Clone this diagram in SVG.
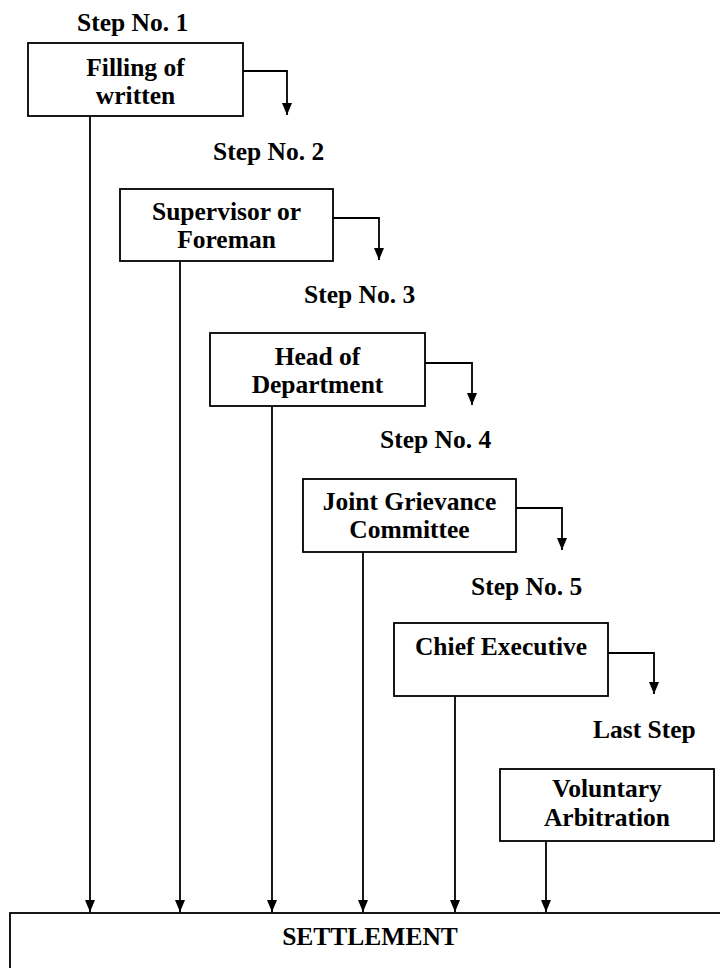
<svg xmlns="http://www.w3.org/2000/svg" width="720" height="968" viewBox="0 0 720 968">
<defs>
<style>
.box{fill:#fff;stroke:#000;stroke-width:1.8}
.c{fill:none;stroke:#000;stroke-width:1.8}
</style>
<marker id="ah" markerWidth="12" markerHeight="10" refX="12" refY="5" orient="auto" markerUnits="userSpaceOnUse" viewBox="0 0 12 10">
<path d="M0,0 L12,5 L0,10 Z" fill="#000"/>
</marker>
</defs>
<rect width="720" height="968" fill="#fff"/>
<g id="labels">
<text x="77" y="31" font-family="Liberation Serif" font-weight="bold" font-size="25.5">Step No. 1</text>
<text x="213" y="160" font-family="Liberation Serif" font-weight="bold" font-size="25.5">Step No. 2</text>
<text x="304" y="303" font-family="Liberation Serif" font-weight="bold" font-size="25.5">Step No. 3</text>
<text x="380" y="448" font-family="Liberation Serif" font-weight="bold" font-size="25.5">Step No. 4</text>
<text x="471" y="595" font-family="Liberation Serif" font-weight="bold" font-size="25.5">Step No. 5</text>
<text x="593" y="738" font-family="Liberation Serif" font-weight="bold" font-size="25.5">Last Step</text>
</g>
<g id="connectors">
<path class="c" d="M243,71 H287 V115" marker-end="url(#ah)"/>
<path class="c" d="M333,218 H379 V260" marker-end="url(#ah)"/>
<path class="c" d="M425,363 H472 V405" marker-end="url(#ah)"/>
<path class="c" d="M516,508 H562 V550" marker-end="url(#ah)"/>
<path class="c" d="M608,653 H654 V694" marker-end="url(#ah)"/>
<path class="c" d="M90,116 V912" marker-end="url(#ah)"/>
<path class="c" d="M180,261 V912" marker-end="url(#ah)"/>
<path class="c" d="M272,406 V912" marker-end="url(#ah)"/>
<path class="c" d="M363,552 V912" marker-end="url(#ah)"/>
<path class="c" d="M455,696 V912" marker-end="url(#ah)"/>
<path class="c" d="M546,841 V912" marker-end="url(#ah)"/>
</g>
<g id="n1">
<rect class="box" x="28" y="43" width="215" height="73"/>
<text x="135.5" y="76" font-family="Liberation Serif" font-weight="bold" font-size="25.5" text-anchor="middle">Filling of</text>
<text x="135.5" y="104" font-family="Liberation Serif" font-weight="bold" font-size="25.5" text-anchor="middle">written</text>
</g>
<g id="n2">
<rect class="box" x="120" y="189" width="213" height="72"/>
<text x="226.5" y="220" font-family="Liberation Serif" font-weight="bold" font-size="25.5" text-anchor="middle">Supervisor or</text>
<text x="226.5" y="248" font-family="Liberation Serif" font-weight="bold" font-size="25.5" text-anchor="middle">Foreman</text>
</g>
<g id="n3">
<rect class="box" x="210" y="333" width="215" height="73"/>
<text x="317.5" y="365" font-family="Liberation Serif" font-weight="bold" font-size="25.5" text-anchor="middle">Head of</text>
<text x="317.5" y="393" font-family="Liberation Serif" font-weight="bold" font-size="25.5" text-anchor="middle">Department</text>
</g>
<g id="n4">
<rect class="box" x="303" y="479" width="213" height="73"/>
<text x="409.5" y="510" font-family="Liberation Serif" font-weight="bold" font-size="25.5" text-anchor="middle">Joint Grievance</text>
<text x="409.5" y="538" font-family="Liberation Serif" font-weight="bold" font-size="25.5" text-anchor="middle">Committee</text>
</g>
<g id="n5">
<rect class="box" x="394" y="623" width="214" height="73"/>
<text x="501" y="655" font-family="Liberation Serif" font-weight="bold" font-size="25.5" text-anchor="middle">Chief Executive</text>
</g>
<g id="n6">
<rect class="box" x="500" y="769" width="214" height="72"/>
<text x="607" y="797" font-family="Liberation Serif" font-weight="bold" font-size="25.5" text-anchor="middle">Voluntary</text>
<text x="607" y="826" font-family="Liberation Serif" font-weight="bold" font-size="25.5" text-anchor="middle">Arbitration</text>
</g>
<g id="settlement">
<rect class="box" x="10" y="913" width="740" height="100"/>
<text x="370" y="945" font-family="Liberation Serif" font-weight="bold" font-size="25.5" text-anchor="middle">SETTLEMENT</text>
</g>
</svg>
